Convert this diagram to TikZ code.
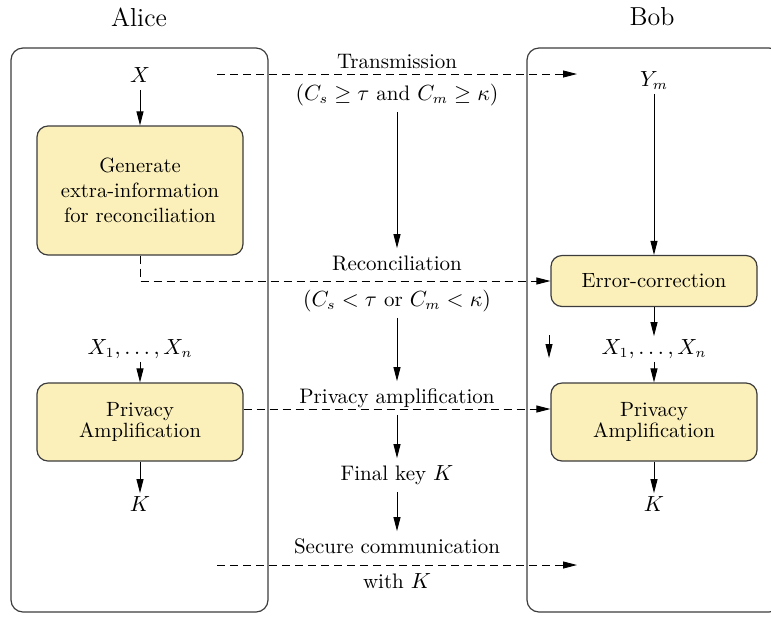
\documentclass[tikz,border=0pt]{standalone}
\usetikzlibrary{arrows.meta, positioning}
\definecolor{boxyellow}{RGB}{252,240,186}
\definecolor{edgegray}{RGB}{60,60,60}

\begin{document}
\begin{tikzpicture}[x=0.5pt, y=-0.5pt,
    party/.style={font=\fontsize{13}{15}\selectfont},
    lbl/.style={font=\fontsize{10.5}{12.5}\selectfont, text height=8pt, text depth=2.5pt, inner sep=3pt},
    var/.style={lbl, inner sep=1pt},
    procbox/.style={draw=edgegray, line width=0.6pt, rounded corners=5.5pt, fill=boxyellow, minimum width=103pt, align=center, font=\fontsize{10.3}{12.5}\selectfont},
    partyframe/.style={draw=edgegray, line width=0.6pt, rounded corners=6pt},
    flow/.style={line width=0.45pt, -{Triangle[length=7pt,width=3.5pt]}},
    msg/.style={flow, dash pattern=on 4pt off 2.5pt}]
    \useasboundingbox (0,0) rectangle (771,618);

    % the two parties
    \node[party] (alice) at (139,17) {Alice};
    \node[party] (bob) at (652,17) {Bob};
    \node[partyframe, minimum width=128.5pt, minimum height=282pt] (aliceframe) at (139.5,330) {};
    \node[partyframe, minimum width=127pt, minimum height=282pt] (bobframe) at (654,330) {};

    % Alice
    \node[var] (xa) at (140,77) {$X$};
    \node[procbox, minimum height=64.5pt] (gen) at (140,190.5) {Generate\\ extra-information\\ for reconciliation};
    \node[var] (xsa) at (140,349) {$X_1,\dots,X_n$};
    \node[procbox, minimum height=39pt, font=\fontsize{10.3}{10.5}\selectfont] (paa) at (140,422) {Privacy\\ Amplification};
    \node[var] (ka) at (140,506) {$K$};

    % channel
    \node[lbl] (trans) at (397,63) {Transmission};
    \node[lbl] (transc) at (397,95) {$(C_s \geq \tau$ and $C_m \geq \kappa)$};
    \node[lbl] (rec) at (397,265) {Reconciliation};
    \node[lbl] (recc) at (397,301) {$(C_s < \tau$ or $C_m < \kappa)$};
    \node[lbl] (pamp) at (397,398) {Privacy amplification};
    \node[lbl] (fkey) at (397,475) {Final key $K$};
    \node[lbl] (sec) at (397,548) {Secure communication};
    \node[lbl] (withk) at (397,583) {with $K$};

    % Bob
    \node[var] (ym) at (654,81) {$Y_m$};
    \node[procbox, minimum height=25.5pt] (ec) at (654,281) {Error-correction};
    \node[var] (xsb) at (654,349) {$X_1,\dots,X_n$};
    \node[procbox, minimum height=39pt, font=\fontsize{10.3}{10.5}\selectfont] (pab) at (654,422) {Privacy\\ Amplification};
    \node[var] (kb) at (654,506) {$K$};

    \coordinate (tx0) at (217,74);
    \coordinate (tx1) at (577,74);
    \coordinate (sc0) at (217,565);
    \coordinate (sc1) at (577,565);
    \coordinate (stray0) at (549,335);
    \coordinate (stray1) at (549,358);

    % local steps
    \draw[flow] (xa) -- (gen);
    \draw[flow] (xsa) -- (paa);
    \draw[flow] (paa) -- (ka);
    \draw[flow] (ym) -- (ec);
    \draw[flow] (ec) -- (xsb);
    \draw[flow] (xsb) -- (pab);
    \draw[flow] (pab) -- (kb);
    \draw[flow] (stray0) -- (stray1);

    % protocol phases
    \draw[flow] (transc) -- (rec);
    \draw[flow] (recc) -- (pamp);
    \draw[flow] (pamp) -- (fkey);
    \draw[flow] (fkey) -- (sec);

    % messages
    \draw[msg] (tx0) -- (tx1);
    \draw[msg] (gen.south) |- (ec.west);
    \draw[msg] ([yshift=6.5pt]paa.east) -- ([yshift=6.5pt]pab.west);
    \draw[msg] (sc0) -- (sc1);
\end{tikzpicture}
\end{document}
